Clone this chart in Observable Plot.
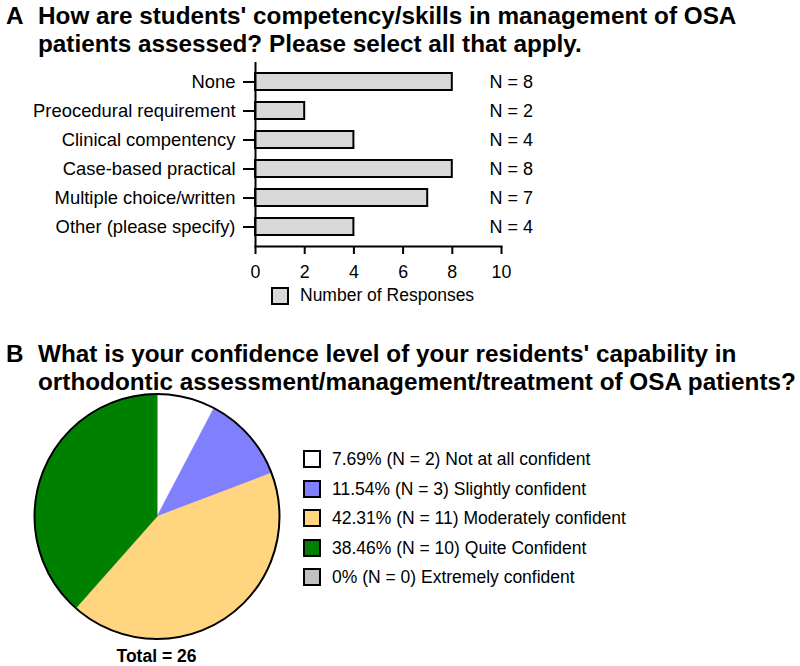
<!DOCTYPE html>
<html><head><meta charset="utf-8">
<script src="https://cdn.jsdelivr.net/npm/d3@7"></script>
<script src="https://cdn.jsdelivr.net/npm/@observablehq/plot@0.6"></script>
<style>
body{margin:0;background:#fff;}
#root{position:relative;width:800px;height:666px;overflow:hidden;font-family:"Liberation Sans",Arial,sans-serif;color:#000;}
.title{position:absolute;left:0;width:800px;font-family:"Liberation Sans",Arial,sans-serif;font-weight:bold;font-size:24.3px;line-height:28px;}
.title .letter{position:absolute;left:6px;top:0;}
.title .text{position:absolute;left:38px;top:0;white-space:nowrap;}
.sw{position:absolute;width:14px;height:14px;border:2px solid #000;}
.lt{position:absolute;font-size:17.5px;line-height:20px;white-space:nowrap;}
</style></head>
<body><div id="root"></div>
<script>
const titleA = ["How are students' competency/skills in management of OSA", "patients assessed? Please select all that apply."];
const titleB = ["What is your confidence level of your residents' capability in", "orthodontic assessment/management/treatment of OSA patients?"];
const categories = ["None","Preocedural requirement","Clinical compentency","Case-based practical","Multiple choice/written","Other (please specify)"];
const responses = [8,2,4,8,7,4];
const xTicks = [0,2,4,6,8,10];
const barLegend = "Number of Responses";
const pieLabels = ["Not at all confident","Slightly confident","Moderately confident","Quite Confident","Extremely confident"];
const pieCounts = [2,3,11,10,0];
const pieColors = ["#ffffff","#8080ff","#ffd580","#008000","#c0c0c0"];

const root = document.getElementById("root");
const FONT = '"Liberation Sans", Arial, sans-serif';

function addTitle(letter, lines, top){
  const d = document.createElement("div");
  d.className = "title"; d.style.top = top + "px";
  d.innerHTML = `<span class="letter">${letter}</span><span class="text"></span>`;
  d.querySelector(".text").innerHTML = lines.map(l => l.replace(/&/g,"&amp;")).join("<br>");
  root.appendChild(d);
}
addTitle("A", titleA, 2);
addTitle("B", titleB, 340);

// Bar chart
const barData = categories.map((c,i) => ({cat:c, n:responses[i]}));
const bar = Plot.plot({
  width: 560, height: 235,
  marginLeft: 255, marginRight: 59, marginTop: 12, marginBottom: 39,
  x: {domain:[0,10]},
  y: {domain: categories, paddingInner: 0.41, paddingOuter: 0.356},
  style: {fontFamily: FONT, fontSize: "17.5px", color: "black", background: "transparent"},
  marks: [
    Plot.barX(barData, {x:"n", y:"cat", fill:"#d9d9d9", stroke:"black", strokeWidth:2}),
    Plot.ruleX([0], {stroke:"black", strokeWidth:2}),
    Plot.frame({anchor:"bottom", stroke:"black", strokeWidth:2}),
    Plot.axisX({ticks: xTicks, tickSize: 8, tickPadding: 11, strokeWidth: 2, label: null, fontSize: 17.8, tickFormat: d => String(d)}),
    Plot.axisY({tickSize: 12, tickPadding: 8, strokeWidth: 2, label: null, fontSize: 18.4}),
    Plot.text(barData, {y:"cat", text: d => `N = ${d.n}`, frameAnchor:"right", textAnchor:"start", dx:-12, fill:"black", fontSize: 18})
  ]
});
bar.style.position = "absolute"; bar.style.left = "0px"; bar.style.top = "50px";
root.appendChild(bar);

// bar legend
{
  const sw = document.createElement("div"); sw.className = "sw";
  sw.style.left = "271px"; sw.style.top = "287px"; sw.style.background = "#d9d9d9";
  root.appendChild(sw);
  const t = document.createElement("div"); t.className = "lt";
  t.style.left = "300px"; t.style.top = "285px"; t.textContent = barLegend;
  root.appendChild(t);
}

// Pie chart
const total = d3.sum(pieCounts);
const piePoints = [];
let cum = 0;
pieCounts.forEach((c,i) => {
  if (c === 0) return;
  const a0 = cum / total * 2 * Math.PI, a1 = (cum + c) / total * 2 * Math.PI;
  cum += c;
  const steps = Math.max(2, Math.ceil((a1 - a0) / (Math.PI / 180)));
  piePoints.push({x:0, y:0, label: pieLabels[i], color: pieColors[i]});
  for (let k = 0; k <= steps; k++) {
    const a = a0 + (a1 - a0) * k / steps;
    piePoints.push({x: Math.sin(a), y: Math.cos(a), label: pieLabels[i], color: pieColors[i]});
  }
});
const pie = Plot.plot({
  width: 289, height: 252,
  marginLeft: 34, marginRight: 10, marginTop: 3.5, marginBottom: 3.5,
  x: {domain:[-1,1], axis:null},
  y: {domain:[-1,1], axis:null},
  color: {type:"identity"},
  style: {background:"transparent"},
  marks: [
    Plot.line(piePoints, {x:"x", y:"y", z:"label", fill:"color", stroke:"color", strokeWidth:0.6, curve:"linear-closed"}),
    Plot.dot([{x:0,y:0}], {x:"x", y:"y", r:122.5, fill:"none", stroke:"black", strokeWidth:2})
  ]
});
pie.style.position = "absolute"; pie.style.left = "0px"; pie.style.top = "390px";
root.appendChild(pie);

{
  const t = document.createElement("div"); t.className = "lt";
  t.style.left = "0px"; t.style.width = "313px"; t.style.textAlign = "center";
  t.style.top = "646px"; t.style.fontWeight = "bold";
  t.textContent = `Total = ${total}`;
  root.appendChild(t);
}

// pie legend
const fmtPct = v => v === 0 ? "0%" : d3.format(".2f")(v) + "%";
pieLabels.forEach((lab,i) => {
  const cy = 459 + i * 29.5;
  const sw = document.createElement("div"); sw.className = "sw";
  sw.style.left = "303px"; sw.style.top = (cy - 9) + "px"; sw.style.background = pieColors[i];
  root.appendChild(sw);
  const t = document.createElement("div"); t.className = "lt";
  t.style.left = "332px"; t.style.top = (cy - 10) + "px";
  t.textContent = `${fmtPct(pieCounts[i] / total * 100)} (N = ${pieCounts[i]}) ${lab}`;
  root.appendChild(t);
});
</script>
</body></html>
